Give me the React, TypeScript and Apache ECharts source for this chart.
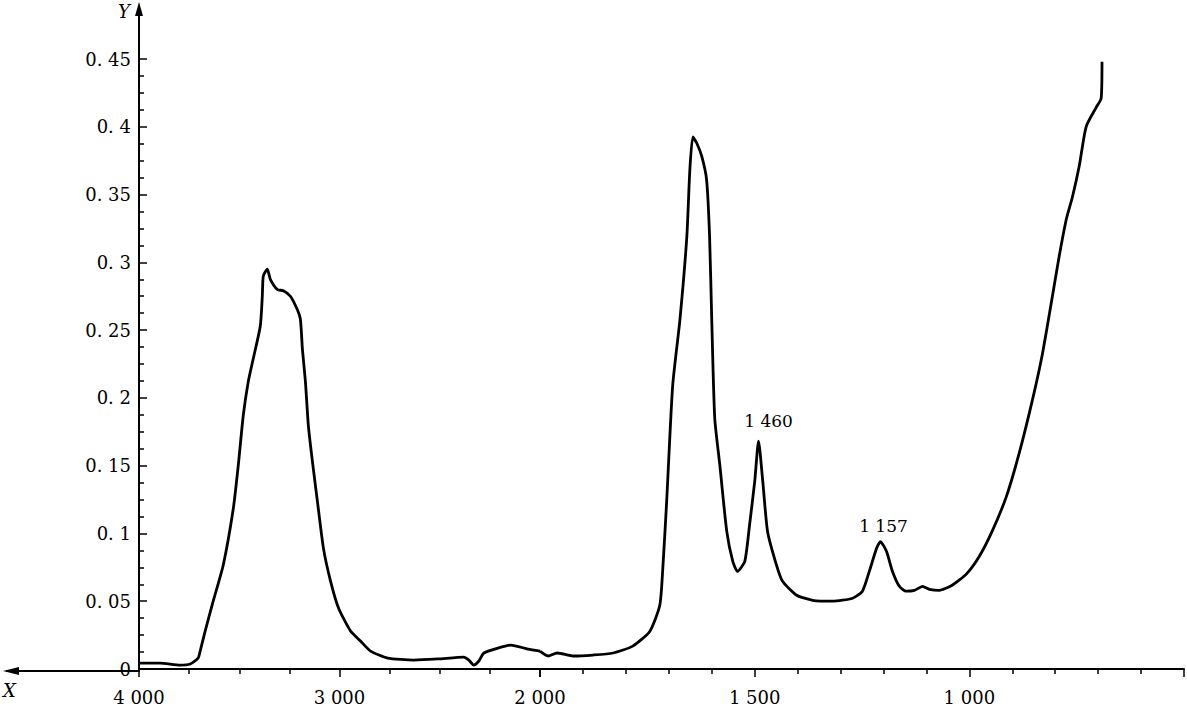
import React, { useEffect, useRef } from "react";
import * as echarts from "echarts";

// Wavenumber (cm-1) / absorbance, region 4000-2000 (first axis scale)
const wavenumbersHigh = [
  4000, 3895, 3795, 3745, 3705, 3695, 3670, 3630, 3580, 3530, 3505, 3480, 3455, 3430,
  3395, 3385, 3380, 3360, 3345, 3310, 3280, 3245, 3210, 3195, 3185, 3170, 3155, 3135,
  3110, 3080, 3045, 3005, 2945, 2895, 2845, 2760, 2630, 2510, 2380, 2355, 2330, 2305,
  2280, 2210, 2145, 2060, 2000,
];
const absorbanceHigh = [
  0.0044, 0.0044, 0.0029, 0.0037, 0.0081, 0.0132, 0.0279, 0.05, 0.0765, 0.118, 0.15,
  0.187, 0.212, 0.229, 0.253, 0.275, 0.29, 0.295, 0.2875, 0.28, 0.279, 0.275, 0.265,
  0.258, 0.236, 0.212, 0.179, 0.153, 0.1235, 0.089, 0.065, 0.045, 0.028, 0.0206, 0.0132,
  0.0081, 0.0066, 0.0074, 0.0088, 0.0066, 0.0029, 0.0059, 0.0118, 0.0154, 0.0176,
  0.0147, 0.0132,
];

// Wavenumber (cm-1) / absorbance, region 2000-500 (second axis scale)
const wavenumbersLow = [
  2000, 1981, 1960, 1923, 1877, 1830, 1784, 1744, 1721, 1714, 1705, 1691, 1674, 1658,
  1651, 1644, 1635, 1623, 1612, 1605, 1600, 1593, 1581, 1565, 1551, 1540, 1523, 1512,
  1500, 1491, 1481, 1470, 1449, 1435, 1402, 1365, 1319, 1272, 1249, 1233, 1216, 1207,
  1193, 1179, 1163, 1147, 1128, 1109, 1093, 1070, 1040, 1007, 977, 947, 914, 884, 853,
  830, 807, 791, 774, 760, 744, 728, 705, 693, 691,
];
const absorbanceLow = [
  0.0132, 0.0096, 0.0118, 0.0096, 0.0103, 0.0118, 0.0169, 0.0279, 0.047, 0.074, 0.1235,
  0.209, 0.258, 0.319, 0.368, 0.3926, 0.388, 0.378, 0.361, 0.319, 0.258, 0.185, 0.15,
  0.1015, 0.0794, 0.072, 0.0794, 0.106, 0.138, 0.168, 0.138, 0.1015, 0.0765, 0.0647,
  0.0544, 0.0507, 0.05, 0.0522, 0.0574, 0.072, 0.089, 0.094, 0.0868, 0.072, 0.061,
  0.0574, 0.058, 0.061, 0.0588, 0.058, 0.0618, 0.07, 0.083, 0.1015, 0.127, 0.159,
  0.1985, 0.232, 0.274, 0.304, 0.332, 0.348, 0.371, 0.4, 0.414, 0.421, 0.448,
];

// Peak annotations: [wavenumber position on plot, absorbance, label]
const peakLabels: [number, number, string][] = [
  [1491, 0.168, "1 460"],
  [1207, 0.094, "1 157"],
];

const xTickLabelsHigh: Record<number, string> = { 4000: "4 000", 3000: "3 000", 2000: "2 000" };
const xTickLabelsLow: Record<number, string> = { 1500: "1 500", 1000: "1 000" };
const yTickLabels: Record<string, string> = {
  "0": "0", "0.05": "0. 05", "0.1": "0. 1", "0.15": "0. 15", "0.2": "0. 2",
  "0.25": "0. 25", "0.3": "0. 3", "0.35": "0. 35", "0.4": "0. 4", "0.45": "0. 45",
};

const FONT = "DejaVu Serif";

export default function App() {
  const ref = useRef<HTMLDivElement>(null);
  useEffect(() => {
    if (!ref.current) return;
    const chart = echarts.init(ref.current, null, { renderer: "svg" });
    const axisLine = { show: true, lineStyle: { color: "#000", width: 2 } };
    const highData = wavenumbersHigh.map((w, i) => [w, absorbanceHigh[i]]);
    const lowData = wavenumbersLow.map((w, i) => [w, absorbanceLow[i]]);
    const yAxisBase = {
      type: "value",
      min: 0,
      max: 0.45,
      interval: 0.05,
      splitLine: { show: false },
    };
    const labelStyle = { fontFamily: FONT, fontSize: 18, color: "#000" };
    chart.setOption({
      animation: false,
      backgroundColor: "#fff",
      grid: [
        { left: 139, right: 647, top: 59, bottom: 35 },
        { left: 540, right: 2, top: 59, bottom: 35 },
      ],
      xAxis: [
        {
          type: "value",
          gridIndex: 0,
          inverse: true,
          min: 2000,
          max: 4000,
          interval: 1000,
          axisLine,
          axisTick: { show: true, length: 8, lineStyle: { color: "#000", width: 1.5 } },
          minorTick: { show: true, splitNumber: 4, length: 5, lineStyle: { color: "#000", width: 1.5 } },
          splitLine: { show: false },
          axisLabel: {
            margin: 19,
            ...labelStyle,
            formatter: (v: number) => xTickLabelsHigh[v] ?? "",
          },
        },
        {
          type: "value",
          gridIndex: 1,
          inverse: true,
          min: 500,
          max: 2000,
          interval: 500,
          axisLine,
          axisTick: { show: true, length: 8, lineStyle: { color: "#000", width: 1.5 } },
          minorTick: { show: true, splitNumber: 5, length: 5, lineStyle: { color: "#000", width: 1.5 } },
          splitLine: { show: false },
          axisLabel: {
            margin: 19,
            ...labelStyle,
            formatter: (v: number) => xTickLabelsLow[v] ?? "",
          },
        },
      ],
      yAxis: [
        {
          ...yAxisBase,
          gridIndex: 0,
          axisLine,
          axisTick: { show: true, inside: true, length: 8, lineStyle: { color: "#000", width: 1.5 } },
          minorTick: { show: true, splitNumber: 4, length: 5, lineStyle: { color: "#000", width: 1.5 } },
          axisLabel: {
            margin: 8,
            ...labelStyle,
            formatter: (v: number) => yTickLabels[String(Math.round(v * 100) / 100)] ?? "",
          },
        },
        {
          ...yAxisBase,
          gridIndex: 1,
          show: false,
        },
      ],
      series: [
        {
          type: "line",
          xAxisIndex: 0,
          yAxisIndex: 0,
          data: highData,
          showSymbol: false,
          smooth: 0.2,
          lineStyle: { color: "#000", width: 2.8 },
        },
        {
          type: "line",
          xAxisIndex: 1,
          yAxisIndex: 1,
          data: lowData,
          showSymbol: false,
          smooth: 0.2,
          lineStyle: { color: "#000", width: 2.8 },
          markPoint: {
            symbol: "circle",
            symbolSize: 1,
            itemStyle: { color: "rgba(0,0,0,0)" },
            data: peakLabels.map(([w, a, t], i) => ({
              coord: [w, a],
              value: t,
              label: {
                show: true,
                position: "top",
                distance: i === 0 ? 11 : 7,
                offset: i === 0 ? [10, 0] : [3, 0],
                formatter: t,
                fontFamily: FONT,
                fontSize: 17,
                color: "#000",
              },
            })),
          },
        },
      ],
      graphic: [
        { type: "line", shape: { x1: 6, y1: 671, x2: 140, y2: 671 }, style: { stroke: "#000", lineWidth: 2 } },
        { type: "polygon", shape: { points: [[3, 671], [19, 667], [19, 675]] }, style: { fill: "#000" } },
        { type: "line", shape: { x1: 139, y1: 60, x2: 139, y2: 10 }, style: { stroke: "#000", lineWidth: 2 } },
        { type: "polygon", shape: { points: [[139, 2], [135, 16], [143, 16]] }, style: { fill: "#000" } },
        {
          type: "text",
          left: 118,
          top: 2,
          style: { text: "Y", font: `italic 18px "${FONT}"`, fill: "#000" },
        },
        {
          type: "text",
          left: 3,
          top: 681,
          style: { text: "X", font: `italic 18px "${FONT}"`, fill: "#000" },
        },
      ],
    });
    return () => chart.dispose();
  }, []);
  return (
    <div
      ref={ref}
      style={{ position: "absolute", left: 0, top: 0, width: 1187, height: 706 }}
    />
  );
}
